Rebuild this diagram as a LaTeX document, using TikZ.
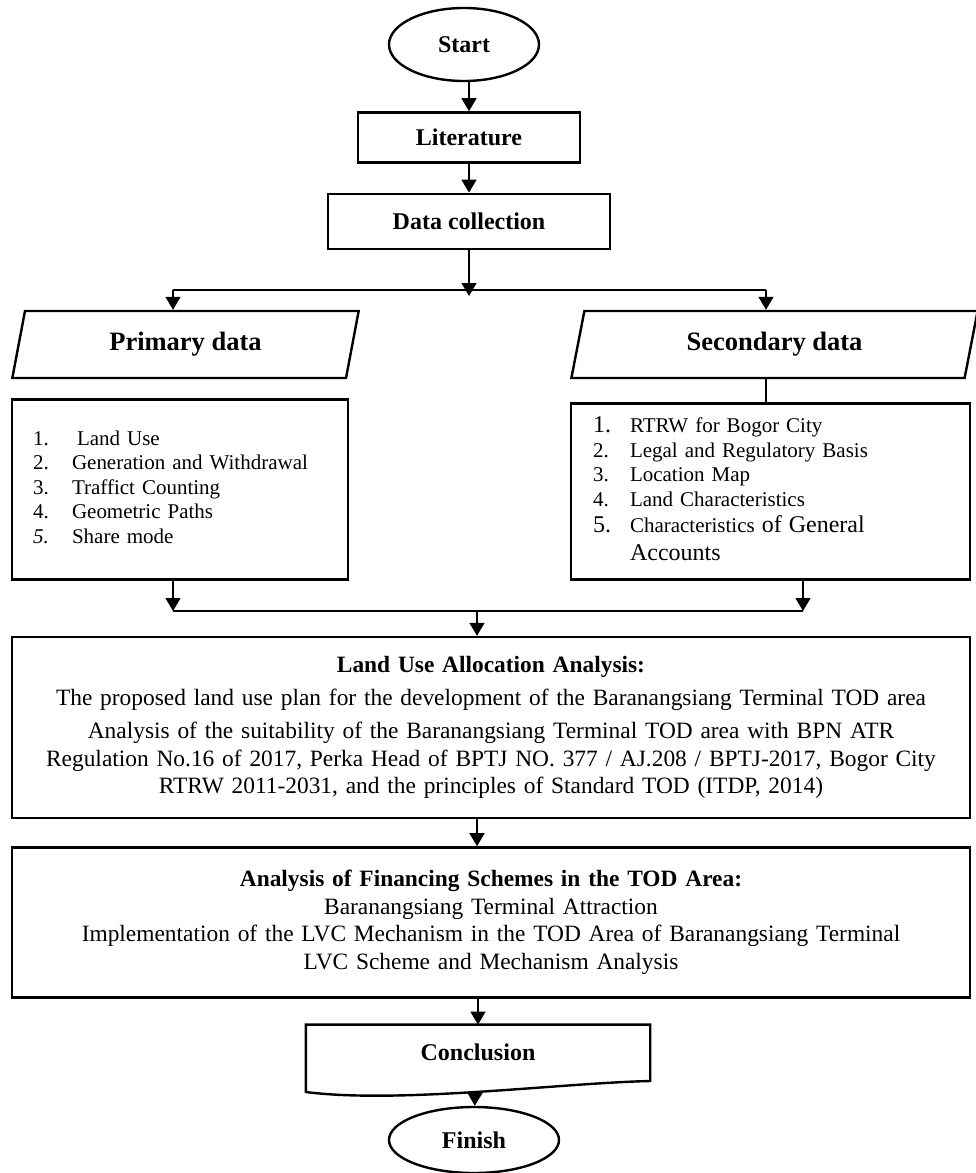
\documentclass[tikz,border=0pt]{standalone}
\usepackage{fontspec}
\setmainfont{Liberation Serif}
\usetikzlibrary{shapes,positioning,arrows.meta,calc}

\begin{document}
\begin{tikzpicture}[
    x=1pt, y=-1pt,
    >={Triangle[width=15pt,length=13pt]},
    Line/.style={
        line width=1.4pt
    },
    Term/.style={
        ellipse,
        draw,
        line width=2.4pt,
        inner sep=0pt,
        font=\bfseries\fontsize{24}{28}\selectfont
    },
    PBox/.style={
        rectangle,
        draw,
        line width=2.4pt,
        inner sep=0pt,
        font=\bfseries\fontsize{24}{28}\selectfont
    },
    IOBox/.style={
        trapezium,
        trapezium left angle=76,
        trapezium right angle=104,
        trapezium stretches=true,
        draw,
        line width=2.4pt,
        inner sep=0pt,
        minimum height=67pt,
        font=\bfseries\fontsize{26.5}{30}\selectfont
    },
    LBox/.style={
        rectangle,
        draw,
        line width=2.4pt,
        inner ysep=0pt,
        align=left,
        font=\fontsize{21}{24.5}\selectfont
    },
    ABox/.style={
        rectangle,
        draw,
        line width=2.4pt,
        inner xsep=9pt,
        inner ysep=0pt,
        text width=940pt,
        align=center,
        font=\fontsize{23.4}{27.5}\selectfont
    },
    Doc/.style={
        rectangle,
        inner sep=0pt,
        minimum width=344pt,
        minimum height=56pt,
        font=\bfseries\fontsize{24}{28}\selectfont
    }
    ]
    \useasboundingbox (0,0) rectangle (976,1173);

    \node[Term,minimum width=150pt,minimum height=73pt] (start) at (464,44.5) {Start};
    \node[PBox,minimum width=222pt,minimum height=50pt] (lit) [below=29pt of start, xshift=5pt] {Literature};
    \node[PBox,minimum width=282pt,minimum height=55pt] (collect) [below=29pt of lit] {Data collection};
    \coordinate[below=46pt of collect] (split);

    \node[IOBox,minimum width=347pt] (primary) at (185.5,344.5) {Primary data};
    \node[IOBox,minimum width=407pt] (secondary) at (774.5,344.5) {Secondary data};

    \node[LBox,inner xsep=21pt,text width=294pt,minimum height=180pt] (primlist) [below=19pt of primary, xshift=-5.5pt] {%
        \begin{tabular}{@{}p{39pt}@{}l@{}}
        1. & \hspace{5pt}Land Use\\
        2. & Generation and Withdrawal\\
        3. & Traffict Counting\\
        4. & Geometric Paths\\
        \textit{5.} & Share mode
        \end{tabular}};
    \node[LBox,inner xsep=22pt,text width=355pt,minimum height=176pt] (seclist) [below=23pt of secondary, xshift=-4pt] {%
        \begin{tabular}{@{}p{37pt}@{}l@{}}
        {\fontsize{24}{27}\selectfont 1.} & RTRW for Bogor City\\
        2. & Legal and Regulatory Basis\\
        3. & Location Map\\
        4. & Land Characteristics\\[2pt]
        {\fontsize{24}{27}\selectfont 5.} & Characteristics {\fontsize{24}{27}\selectfont of General}\\[3pt]
         & {\fontsize{24}{27}\selectfont Accounts}
        \end{tabular}};

    \node[ABox,minimum height=181pt] (landuse) at (491,727.5) {%
        \textbf{Land Use Allocation Analysis:}\\[5pt]
        The proposed land use plan for the development of the Baranangsiang Terminal TOD area\\[6pt]
        Analysis of the suitability of the Baranangsiang Terminal TOD area with BPN ATR\\
        Regulation No.16 of 2017, Perka Head of BPTJ NO. 377 / AJ.208 / BPTJ-2017, Bogor City\\
        RTRW 2011-2031, and the principles of Standard TOD (ITDP, 2014)};
    \node[ABox,minimum height=150pt] (finance) [below=27pt of landuse] {%
        \textbf{Analysis of Financing Schemes in the TOD Area:}\\
        Baranangsiang Terminal Attraction\\
        Implementation of the LVC Mechanism in the TOD Area of Baranangsiang Terminal\\
        LVC Scheme and Mechanism Analysis};

    \node[Doc] (concl) [below=26pt of finance, xshift=-13pt] {Conclusion};
    \draw[line width=2.4pt] (concl.north west) -- (concl.north east) -- (concl.south east)
        .. controls ($(concl.south east)+(-90,2)$) and ($(concl.south west)+(94,23)$) .. ($(concl.south west)+(0,11)$) -- cycle;
    \node[Term,minimum width=170pt,minimum height=66pt] (fin) at (474,1140) {Finish};

    \coordinate (pl) at (173,290);
    \coordinate (pr) at (766,290);
    \coordinate (jl) at (173,611);
    \coordinate (jr) at (803,611);
    \coordinate (jm) at (477,611);

    \draw[Line] (pl) -- (pr);
    \draw[Line] (jl) -- (jr);
    \draw[Line] (pr |- secondary.south) -- (pr |- seclist.north);

    \path[->,Line]
    (start.south -| lit.north) edge (lit.north)
    (lit) edge (collect)
    (collect) edge (split)
    (pl) edge (pl |- primary.north)
    (pr) edge (pr |- secondary.north)
    (jl |- primlist.south) edge (jl)
    (jr |- seclist.south) edge (jr)
    (jm) edge (jm |- landuse.north)
    (landuse.south -| jm) edge (finance.north -| jm)
    (finance.south -| concl.north) edge (concl.north)
    ($(concl.south)+(-3,11)$) edge (fin);
\end{tikzpicture}
\end{document}
